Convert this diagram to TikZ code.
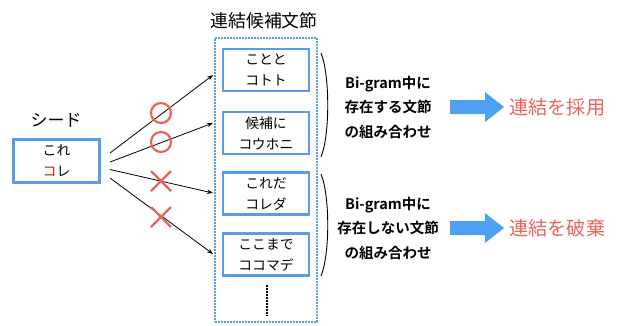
\documentclass[tikz,border=0pt]{standalone}
\usepackage{fontspec}
\setmainfont{Noto Sans CJK JP}[BoldFont={Noto Sans CJK JP Bold}]
\usetikzlibrary{arrows.meta}
\definecolor{boxblue}{RGB}{91,157,222}
\definecolor{arrblue}{RGB}{78,160,240}
\definecolor{redc}{RGB}{236,98,92}
\definecolor{redt}{RGB}{204,30,20}
\tikzset{
  cand/.style={draw=boxblue, line width=2.2pt, minimum width=86pt, minimum height=42pt, inner sep=0pt, align=center, font=\fontsize{13.8}{21}\selectfont},
  seedbox/.style={draw=boxblue, line width=2.2pt, minimum width=86pt, minimum height=43pt, inner sep=0pt, align=center, font=\fontsize{13.8}{21}\selectfont},
  link/.style={-{Stealth[length=6pt,width=4.5pt]}, line width=0.8pt},
  redmark/.style={draw=redc, line width=2.2pt},
  boldtext/.style={align=center, font=\fontsize{14.5}{24.5}\selectfont\bfseries},
  res/.style={text=redc, font=\fontsize{19.2}{22}\selectfont, anchor=west, inner sep=0pt},
  bigarrow/.style={fill=arrblue, draw=none},
}
\begin{document}
\begin{tikzpicture}[x=1pt,y=-1pt]
\useasboundingbox (0,0) rectangle (618,325);
% title
\node (title) at (264,21) {\fontsize{17.8}{20}\selectfont 連結候補文節};
\node (container) [draw=boxblue, dash pattern=on 1.6pt off 1.4pt, line width=2.2pt, minimum width=102pt, minimum height=284pt, inner sep=0pt] at (266,180) {};
% candidates
\node (c1) [cand] at (266,70) {ことと\\コトト};
\node (c2) [cand] at (266,133) {候補に\\コウホニ};
\node (c3) [cand] at (266,193.5) {これだ\\コレダ};
\node (c4) [cand] at (266,254.5) {ここまで\\ココマデ};
\coordinate (d1) at (267,285);
\coordinate (d2) at (267,316);
\draw[line width=2.2pt, dash pattern=on 1.6pt off 1.4pt] (d1) -- (d2);
% seed
\node (seedlabel) at (56,120) {\fontsize{17}{20}\selectfont シード};
\node (seed) [seedbox] at (56.5,161) {これ\\\textcolor{redt}{コ}レ};
% arrow start / end points
\coordinate (s1) at (110,153);
\coordinate (s2) at (110,162);
\coordinate (s3) at (110,169.5);
\coordinate (s4) at (110,178);
\coordinate (e1) at (213,75);
\coordinate (e2) at (213,123);
\coordinate (e3) at (213,193);
\coordinate (e4) at (213,254);
\draw[link] (s1) -- (e1);
\draw[link] (s2) -- (e2);
\draw[link] (s3) -- (e3);
\draw[link] (s4) -- (e4);
% marks
\draw[redmark] (161,113) circle (10);
\draw[redmark] (161,142) circle (10);
\draw[redmark] (151,171) -- (171,191) (151,191) -- (171,171);
\draw[redmark] (151,207) -- (171,227) (151,227) -- (171,207);
% braces
\coordinate (b1t) at (321,53);
\coordinate (b1b) at (321,157);
\coordinate (b2t) at (321,174);
\coordinate (b2b) at (321,276);
\draw[line width=0.9pt] (b1t) .. controls (330,75) and (330,135) .. (b1b);
\draw[line width=0.9pt] (b2t) .. controls (330,196) and (330,254) .. (b2b);
% texts
\node (t1) [boldtext] at (388,107) {Bi-gram中に\\存在する文節\\の組み合わせ};
\node (t2) [boldtext] at (388,228) {Bi-gram中に\\存在しない文節\\の組み合わせ};
% big arrows
\fill[bigarrow] (450,100) -- (485,100) -- (485,92) -- (504,107) -- (485,122) -- (485,114) -- (450,114) -- cycle;
\fill[bigarrow] (450,221) -- (485,221) -- (485,213) -- (504,228) -- (485,243) -- (485,235) -- (450,235) -- cycle;
\node (r1) [res] at (509,107) {連結を採用};
\node (r2) [res] at (509,228) {連結を破棄};
\end{tikzpicture}
\end{document}
